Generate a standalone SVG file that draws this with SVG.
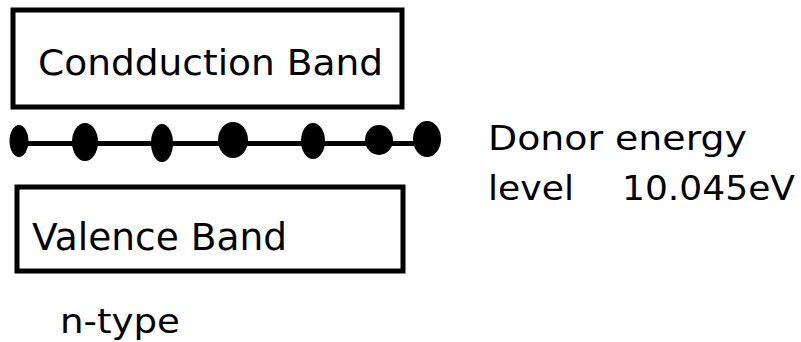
<svg xmlns="http://www.w3.org/2000/svg" width="801" height="342" viewBox="0 0 801 342">
<style>
.box{fill:#fff;stroke:#000;stroke-width:5}
.t{font-family:"DejaVu Sans",Verdana,sans-serif;fill:#000}
.dot{fill:#000}
</style>
<rect width="801" height="342" fill="#fff"/>
<g id="conduction">
<rect class="box" x="13" y="10" width="389" height="97"/>
<text class="t" x="38" y="75" font-size="36" textLength="345" lengthAdjust="spacingAndGlyphs">Condduction Band</text>
</g>
<g id="donor-level">
<line x1="12" y1="143.5" x2="440" y2="143.5" stroke="#000" stroke-width="5"/>
<ellipse class="dot" cx="19" cy="141" rx="9.5" ry="16"/>
<ellipse class="dot" cx="85" cy="142" rx="13" ry="19"/>
<ellipse class="dot" cx="162" cy="143" rx="11" ry="19"/>
<ellipse class="dot" cx="233" cy="140" rx="15" ry="18"/>
<ellipse class="dot" cx="313" cy="141" rx="12" ry="18"/>
<ellipse class="dot" cx="379" cy="140" rx="14" ry="15"/>
<ellipse class="dot" cx="427" cy="139" rx="14" ry="18"/>
</g>
<g id="valence">
<rect class="box" x="17" y="187" width="386" height="84"/>
<text class="t" x="32" y="250" font-size="37" textLength="255" lengthAdjust="spacingAndGlyphs">Valence Band</text>
</g>
<g id="labels">
<text class="t" x="488" y="150" font-size="34" textLength="259" lengthAdjust="spacingAndGlyphs">Donor energy</text>
<text class="t" x="488" y="200" font-size="34" textLength="86" lengthAdjust="spacingAndGlyphs">level</text>
<text class="t" x="622" y="200" font-size="34" textLength="173" lengthAdjust="spacingAndGlyphs">10.045eV</text>
<text class="t" x="60" y="333" font-size="34" textLength="120" lengthAdjust="spacingAndGlyphs">n-type</text>
</g>
</svg>
